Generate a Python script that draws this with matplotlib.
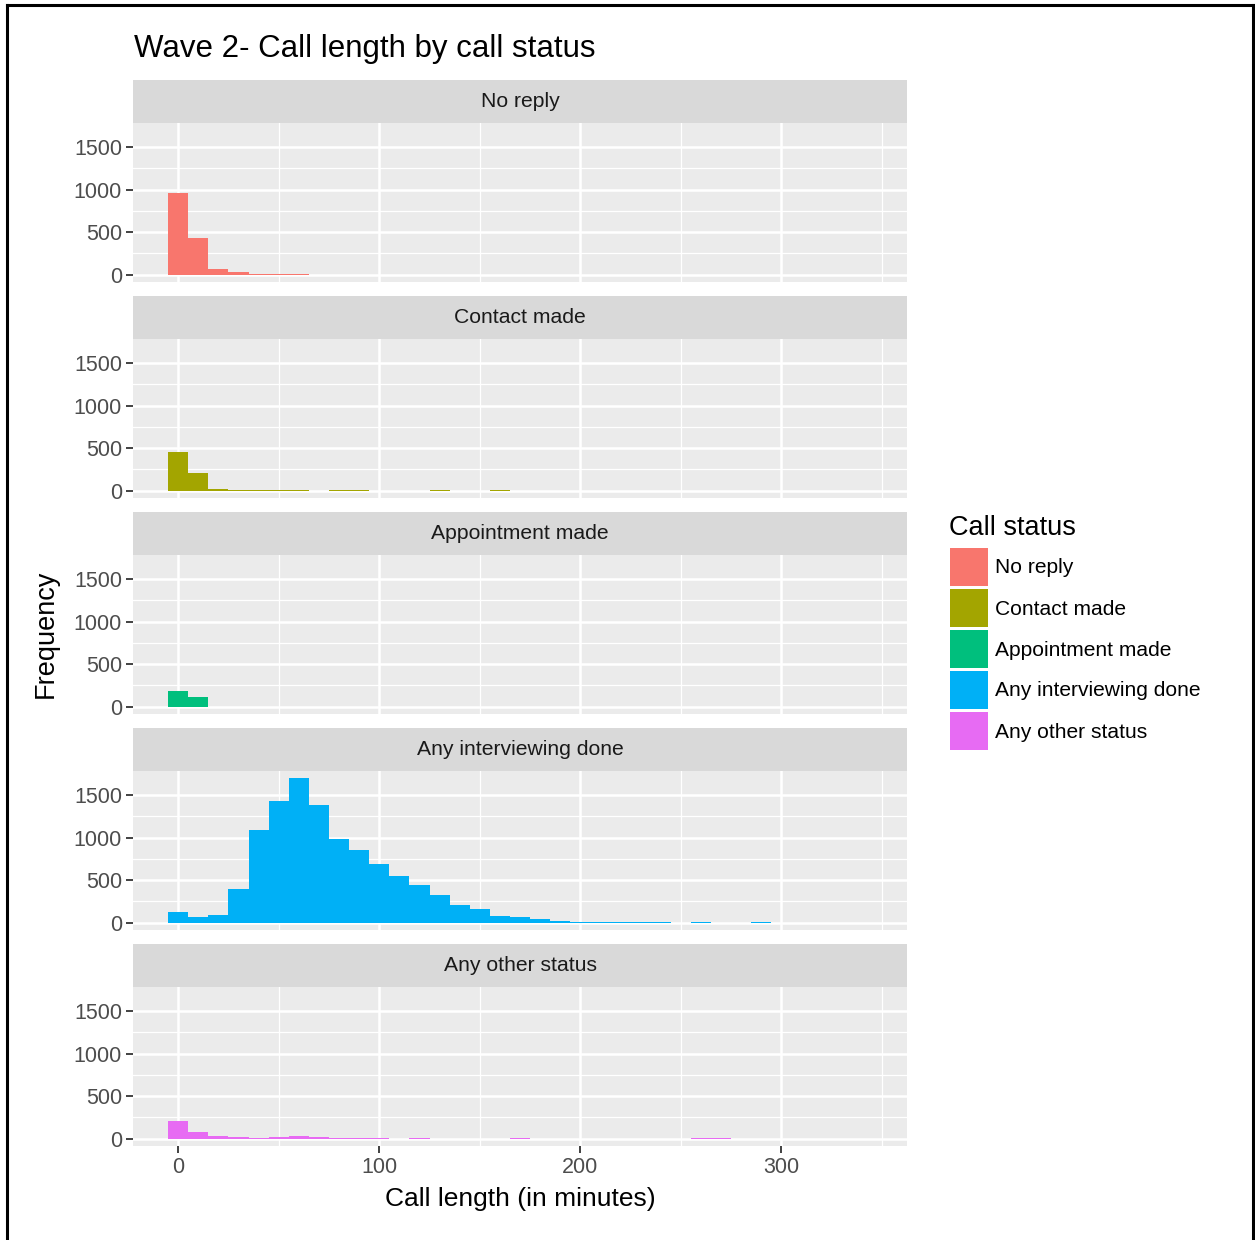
import matplotlib
matplotlib.use("Agg")
import matplotlib.pyplot as plt
from matplotlib.lines import Line2D
from matplotlib.patches import Rectangle

plt.rcParams['font.family'] = ['Liberation Sans', 'DejaVu Sans']

# histogram bins are 10 minutes wide, centred on these values
statuses = ['No reply', 'Contact made', 'Appointment made',
            'Any interviewing done', 'Any other status']
colors = ['#F8766D', '#A3A500', '#00BF7D', '#00B0F6', '#E76BF3']

no_reply_x = [0, 10, 20, 30, 40, 50, 60]
no_reply_n = [965, 430, 66, 31, 7, 6, 6]

contact_x = [0, 10, 20, 30, 40, 50, 60, 80, 90, 130, 160]
contact_n = [450, 209, 20, 7, 6, 6, 6, 7, 7, 7, 7]

appoint_x = [0, 10]
appoint_n = [190, 112]

interview_x = [0, 10, 20, 30, 40, 50, 60, 70, 80, 90, 100, 110, 120, 130, 140,
               150, 160, 170, 180, 190, 200, 210, 220, 230, 240, 260, 290]
interview_n = [121, 70, 93, 395, 1086, 1435, 1698, 1380, 985, 860, 694, 555, 438,
               330, 206, 156, 81, 64, 43, 23, 10, 9, 8, 6, 6, 6, 6]

other_x = [0, 10, 20, 30, 40, 50, 60, 70, 80, 90, 100, 120, 170, 260, 270]
other_n = [205, 78, 32, 18, 8, 18, 30, 18, 8, 8, 8, 6, 6, 6, 6]

series = [(no_reply_x, no_reply_n), (contact_x, contact_n), (appoint_x, appoint_n),
          (interview_x, interview_n), (other_x, other_n)]

W, H = 1255, 1240
fig = plt.figure(figsize=(W / 100, H / 100), dpi=100)


def box(x0, y0, x1, y1):
    # pixel box (top-left origin) -> figure rect
    return [x0 / W, 1 - y1 / H, (x1 - x0) / W, (y1 - y0) / H]


left, right = 133, 907
strip_tops = [80, 296, 512, 728, 944]
strip_h, panel_h = 43, 159

for i, (status, col, (xs, ns)) in enumerate(zip(statuses, colors, series)):
    st = strip_tops[i]
    sax = fig.add_axes(box(left, st, right, st + strip_h))
    sax.set_facecolor('#D9D9D9')
    sax.set_xticks([])
    sax.set_yticks([])
    for s in sax.spines.values():
        s.set_visible(False)
    sax.text(0.5, 0.5, status, ha='center', va='center', fontsize=15.2,
             color='#1A1A1A', transform=sax.transAxes)

    ax = fig.add_axes(box(left, st + strip_h, right, st + strip_h + panel_h))
    ax.set_facecolor('#EBEBEB')
    ax.set_xlim(-22.5, 362.5)
    ax.set_ylim(-85, 1783)
    ax.set_xticks([0, 100, 200, 300])
    ax.set_xticks([50, 150, 250, 350], minor=True)
    ax.set_yticks([0, 500, 1000, 1500])
    ax.set_yticks([250, 750, 1250], minor=True)
    ax.grid(True, which='major', color='white', linewidth=1.8)
    ax.grid(True, which='minor', color='white', linewidth=0.9)
    ax.set_axisbelow(True)
    for s in ax.spines.values():
        s.set_visible(False)
    ax.bar(xs, ns, width=10, color=col, linewidth=0)
    ax.tick_params(axis='y', which='major', length=5, width=1.3, color='#333333',
                   labelsize=15.5, labelcolor='#4D4D4D', pad=3)
    ax.tick_params(which='minor', length=0)
    if i < 4:
        ax.tick_params(axis='x', which='major', length=0, labelbottom=False)
    else:
        ax.tick_params(axis='x', which='major', length=5, width=1.3, color='#333333',
                       labelsize=15.5, labelcolor='#4D4D4D', pad=3)

fig.text(134 / W, 1 - 49 / H, 'Wave 2- Call length by call status', fontsize=22.5,
         ha='left', va='center', color='black')
fig.text(520 / W, 1 - 1199 / H, 'Call length (in minutes)', fontsize=19,
         ha='center', va='center', color='black')
fig.text(46 / W, 1 - 634 / H, 'Frequency', fontsize=19.5, rotation=90,
         ha='center', va='center', color='black')

# legend drawn by hand: square keys 38 px, 41 px apart
fig.text(949 / W, 1 - 528 / H, 'Call status', fontsize=19.5,
         ha='left', va='center', color='black')
for k, (status, col) in enumerate(zip(statuses, colors)):
    top = 548 + 41 * k
    fig.add_artist(Rectangle((950 / W, 1 - (top + 38) / H), 38 / W, 38 / H,
                             transform=fig.transFigure, facecolor=col,
                             edgecolor='none'))
    fig.text(995 / W, 1 - (top + 20) / H, status, fontsize=15.1,
             ha='left', va='center', color='black')

# outer border of the image
lw = 2.2
fig.add_artist(Line2D([7 / W, 7 / W], [0, 1 - 5 / H], color='black', lw=lw))
fig.add_artist(Line2D([7 / W, 1253 / W], [1 - 5 / H, 1 - 5 / H], color='black', lw=lw))
fig.add_artist(Line2D([1253 / W, 1253 / W], [0, 1 - 5 / H], color='black', lw=lw))

fig.savefig('out.png', dpi=100)
